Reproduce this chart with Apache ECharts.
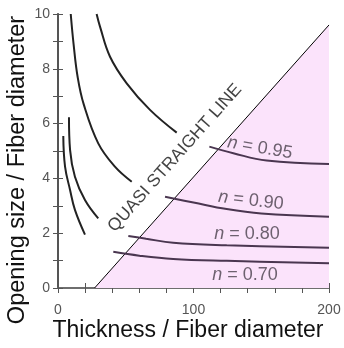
<!DOCTYPE html>
<html>
<head>
<meta charset="utf-8">
<script src="https://cdn.jsdelivr.net/npm/echarts@6/dist/echarts.min.js"></script>
<style>
  html, body { margin: 0; padding: 0; background: #fff; }
  #chart { width: 344px; height: 348px; }
</style>
</head>
<body>
<div id="chart"></div>
<script>
// porosity n for each curve
const nValues = ['0.95', '0.90', '0.80', '0.70'];

// part of each curve above the quasi straight line (black)
const upper95 = [[28.5, 10], [31, 9.54], [38.4, 8.44], [50.7, 7.47], [67.9, 6.5], [87.6, 5.67]];
const upper90 = [[9.4, 10], [11.5, 8.9], [14.5, 7.7], [19, 6.7], [29.7, 5.28], [42, 4.43], [54.4, 3.88]];
const upper80 = [[8.1, 6.23], [8.9, 5.04], [12.5, 4.06], [19.9, 3.21], [29.7, 2.54]];
const upper70 = [[3.9, 5.55], [5.2, 4.43], [8.9, 3.58], [12.5, 2.85], [19.9, 1.95]];

// part of each curve below it (in the shaded zone)
const lower95 = [[111.7, 5.16], [129.4, 4.92], [154, 4.65], [200, 4.53]];
const lower90 = [[79, 3.33], [100, 3.12], [124.5, 2.88], [150, 2.72], [200, 2.6]];
const lower80 = [[51.9, 1.9], [65, 1.8], [85, 1.65], [124.5, 1.56], [200, 1.47]];
const lower70 = [[40.8, 1.32], [60, 1.18], [85, 1.06], [124.5, 0.99], [200, 0.9]];

// quasi straight line
const quasiLine = [[27, 0], [200, 9.6]];

// where the labels sit: x, y, angle
const nLabelAt = [[149, 5.11, -10], [142.4, 3.19, -6.5], [139.5, 1.97, 0], [138, 0.47, 0]];
const quasiLabelAt = [86.3, 4.74, 48.3];

const chart = echarts.init(document.getElementById('chart'));

const upper = [upper95, upper90, upper80, upper70];
const lower = [lower95, lower90, lower80, lower70];

const curveSeries = [];
upper.forEach(d => curveSeries.push({
  type: 'line', data: d, smooth: 0.4, showSymbol: false, silent: true,
  lineStyle: { color: '#222', width: 2 }, z: 3
}));
lower.forEach(d => curveSeries.push({
  type: 'line', data: d, smooth: 0.4, showSymbol: false, silent: true,
  lineStyle: { color: '#4a3650', width: 2 }, z: 3
}));

const font = 'Liberation Sans, Arial, sans-serif';

chart.setOption({
  animation: false,
  grid: { left: 58, right: 15, top: 14, bottom: 60, containLabel: false, outerBoundsMode: 'none' },
  xAxis: [{
    type: 'value', min: 0, max: 200, interval: 20, position: 'bottom',
    axisLine: { lineStyle: { color: '#555', width: 2 } },
    axisTick: { length: 5, lineStyle: { color: '#555', width: 1 } },
    splitLine: { show: false },
    axisLabel: {
      margin: 15, color: '#555', fontSize: 14, fontFamily: font,
      formatter: v => (v % 100 === 0 ? String(v) : '')
    }
  }, {
    type: 'value', min: 0, max: 200, interval: 20, position: 'top',
    axisLine: { show: true, lineStyle: { color: '#777', width: 1.5 } },
    axisTick: { show: true, length: 5, lineStyle: { color: '#555', width: 1 } },
    axisLabel: { show: false }, splitLine: { show: false }
  }],
  yAxis: [{
    type: 'value', min: 0, max: 10, interval: 1, position: 'left',
    axisLine: { show: true, lineStyle: { color: '#777', width: 1.5 } },
    axisTick: { show: true, length: 5, lineStyle: { color: '#555', width: 1 } },
    splitLine: { show: false },
    axisLabel: {
      margin: 8, color: '#555', fontSize: 14, fontFamily: font,
      formatter: v => (v % 2 === 0 ? String(v) : '')
    }
  }, {
    type: 'value', min: 0, max: 10, interval: 1, position: 'right',
    axisLine: { show: true, lineStyle: { color: '#555', width: 2 } },
    axisTick: { show: true, length: 5, lineStyle: { color: '#555', width: 1 } },
    axisLabel: { show: false }, splitLine: { show: false }
  }],
  graphic: [{
    type: 'text', x: 188, y: 331,
    style: { text: 'Thickness / Fiber diameter', fontSize: 23, fontFamily: font, fill: '#111',
      align: 'center', verticalAlign: 'middle' }
  }, {
    type: 'text', x: 6, y: 170, rotation: Math.PI / 2,
    style: { text: 'Opening size / Fiber diameter', fontSize: 23.5, fontFamily: font, fill: '#111',
      align: 'center', verticalAlign: 'top' }
  }],
  series: [{
    type: 'line', data: quasiLine, showSymbol: false, silent: true,
    lineStyle: { color: '#000', width: 1 },
    areaStyle: { color: '#fbe3fb', opacity: 1 }, z: 1
  }].concat(curveSeries, [{
    type: 'scatter', symbolSize: 1, silent: true, z: 5,
    itemStyle: { color: 'rgba(0,0,0,0)' },
    data: nLabelAt.map((p, i) => ({
      value: [p[0], p[1]],
      label: {
        show: true, position: 'inside', rotate: p[2],
        formatter: '{i|n} = ' + nValues[i],
        color: '#4a404c', fontSize: 18, fontFamily: font,
        rich: { i: { fontStyle: 'italic', fontSize: 18, fontFamily: font, color: '#4a404c' } }
      }
    }))
  }, {
    type: 'scatter', symbolSize: 1, silent: true, z: 5,
    itemStyle: { color: 'rgba(0,0,0,0)' },
    data: [{
      value: [quasiLabelAt[0], quasiLabelAt[1]],
      label: {
        show: true, position: 'inside', rotate: quasiLabelAt[2],
        formatter: 'QUASI STRAIGHT LINE', color: '#111', fontSize: 17.5, fontFamily: font
      }
    }]
  }])
});
</script>
</body>
</html>
